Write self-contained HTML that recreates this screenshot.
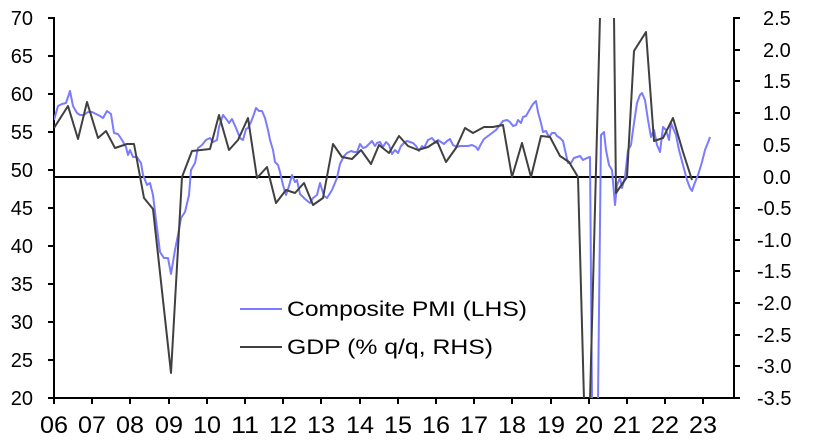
<!DOCTYPE html>
<html><head><meta charset="utf-8"><style>
html,body{margin:0;padding:0;background:#fff;width:814px;height:443px;overflow:hidden;}
svg{display:block;font-family:"Liberation Sans",Arial,sans-serif;}
</style></head><body>
<svg width="814" height="443" viewBox="0 0 814 443" xmlns="http://www.w3.org/2000/svg">
<defs><clipPath id="c"><rect x="54" y="18" width="680" height="380"/></clipPath></defs>
<g stroke="#000" stroke-width="2" fill="none">
<line x1="54" y1="17" x2="54" y2="398"/>
<line x1="734" y1="17" x2="734" y2="398"/>
<line x1="53" y1="398" x2="735" y2="398"/>
<line x1="54" y1="177" x2="734" y2="177"/>
<path d="M48 18H54M48 56H54M48 94H54M48 132H54M48 170H54M48 208H54M48 246H54M48 284H54M48 322H54M48 360H54M48 398H54"/>
<path d="M734 18H740M734 50H740M734 81H740M734 113H740M734 145H740M734 177H740M734 208H740M734 240H740M734 271H740M734 303H740M734 335H740M734 366H740M734 398H740"/>
<path d="M54 398V404M92 398V404M130 398V404M169 398V404M207 398V404M245 398V404M283 398V404M321 398V404M360 398V404M398 398V404M436 398V404M474 398V404M512 398V404M551 398V404M589 398V404M627 398V404M665 398V404M703 398V404"/>
</g>
<g font-size="20" fill="#000" text-anchor="end">
<text x="33" y="25">70</text><text x="33" y="63">65</text><text x="33" y="101">60</text><text x="33" y="139">55</text><text x="33" y="177">50</text><text x="33" y="215">45</text><text x="33" y="253">40</text><text x="33" y="291">35</text><text x="33" y="329">30</text><text x="33" y="367">25</text><text x="33" y="405">20</text>
</g>
<g font-size="20" fill="#000" text-anchor="start">
<text x="763" y="25">2.5</text><text x="763" y="57">2.0</text><text x="763" y="88">1.5</text><text x="763" y="120">1.0</text><text x="763" y="152">0.5</text><text x="763" y="184">0.0</text><text x="757" y="215">-0.5</text><text x="757" y="247">-1.0</text><text x="757" y="278">-1.5</text><text x="757" y="310">-2.0</text><text x="757" y="342">-2.5</text><text x="757" y="373">-3.0</text><text x="757" y="405">-3.5</text>
</g>
<g font-size="24" fill="#000">
<text x="40" y="433" textLength="28" lengthAdjust="spacingAndGlyphs">06</text><text x="78" y="433" textLength="28" lengthAdjust="spacingAndGlyphs">07</text><text x="116" y="433" textLength="28" lengthAdjust="spacingAndGlyphs">08</text><text x="155" y="433" textLength="28" lengthAdjust="spacingAndGlyphs">09</text><text x="193" y="433" textLength="28" lengthAdjust="spacingAndGlyphs">10</text><text x="231" y="433" textLength="28" lengthAdjust="spacingAndGlyphs">11</text><text x="269" y="433" textLength="28" lengthAdjust="spacingAndGlyphs">12</text><text x="307" y="433" textLength="28" lengthAdjust="spacingAndGlyphs">13</text><text x="346" y="433" textLength="28" lengthAdjust="spacingAndGlyphs">14</text><text x="384" y="433" textLength="28" lengthAdjust="spacingAndGlyphs">15</text><text x="422" y="433" textLength="28" lengthAdjust="spacingAndGlyphs">16</text><text x="460" y="433" textLength="28" lengthAdjust="spacingAndGlyphs">17</text><text x="498" y="433" textLength="28" lengthAdjust="spacingAndGlyphs">18</text><text x="537" y="433" textLength="28" lengthAdjust="spacingAndGlyphs">19</text><text x="575" y="433" textLength="28" lengthAdjust="spacingAndGlyphs">20</text><text x="613" y="433" textLength="28" lengthAdjust="spacingAndGlyphs">21</text><text x="651" y="433" textLength="28" lengthAdjust="spacingAndGlyphs">22</text><text x="689" y="433" textLength="28" lengthAdjust="spacingAndGlyphs">23</text>
</g>
<g clip-path="url(#c)" fill="none" stroke-width="2" stroke-linejoin="round">
<polyline stroke="#7b7bff" points="54,120 58,106 62,104 66,103 70,91 73,106 77,113 80,115 84,115 88,112 92,112 96,114 100,116 103,118 107,111 111,114 114,133 118,134 122,140 126,147 128,155 130,150 133,157 137,157 141,163 143,175 147,185 150,183 153,195 156,220 160,252 164,258 168,258 171,274 175,250 178,235 181,218 185,212 189,195 191,170 195,163 198,148 202,145 206,140 210,138 213,142 217,140 219,127 223,115 227,120 229,123 232,119 236,128 240,138 243,140 246,129 248,128 251,122 254,114 256,108 259,111 262,111 265,118 268,130 270,140 273,150 275,162 278,165 280,172 283,185 286,195 289,186 292,175 295,182 297,180 300,194 305,199 310,203 313,198 317,195 320,183 324,196 327,198 332,190 337,178 340,164 344,156 347,153 351,151 354,152 357,152 360,144 363,148 366,147 369,144 372,141 375,146 377,143 380,142 383,147 386,142 389,145 392,154 395,150 398,153 401,146 404,143 407,141 410,142 413,143 416,146 419,151 422,146 424,148 428,140 432,138 436,143 438,140 441,142 444,144 447,141 450,139 453,145 457,147 460,146 464,146 468,146 472,145 476,147 478,150 481,144 484,139 488,136 492,133 496,130 500,125 503,121 507,120 510,122 513,126 516,125 518,120 521,123 523,117 526,116 530,109 533,104 536,101 538,112 541,123 543,132 546,131 549,137 552,133 555,133 557,136 560,138 563,141 565,150 568,163 571,163 574,158 577,157 580,156 583,160 587,158 590,157 592,400 598,400 601,135 604,132 606,150 609,165 612,170 615,205 617,185 620,178 622,188 625,177 628,150 631,145 633,130 637,103 640,95 642,93 645,100 648,120 651,137 654,130 657,145 660,152 663,127 666,130 669,140 671,123 673,128 676,135 679,150 683,165 687,180 690,188 692,191 694,185 698,175 702,162 705,150 709,140 710,137"/>
<polyline stroke="#404040" points="54,128 68,106 78,139 87,102 98,138 106,131 115,148 127,144 134,144 144,198 153,209 171,373 182,177 192,151 210,149 219,115 229,150 238,140 248,118 257,178 267,167 276,203 286,190 295,193 304,183 313,205 323,198 333,144 342,157 352,159 361,150 371,164 379,145 389,153 399,136 408,146 418,150 428,147 437,141 446,162 456,148 465,128 473,133 484,127 493,127 503,125 512,177 522,143 531,177 541,136 550,137 560,156 569,162 578,177 584,400 590,400 600,16 614,16 616,193 627,177 634,51 646,32 654,141 663,138 673,118 683,152 692,180"/>
</g>
<line x1="240" y1="309" x2="282" y2="309" stroke="#7b7bff" stroke-width="2"/>
<line x1="240" y1="347" x2="282" y2="347" stroke="#404040" stroke-width="2"/>
<g font-size="21" fill="#000">
<text x="287" y="316" textLength="240" lengthAdjust="spacingAndGlyphs">Composite PMI (LHS)</text>
<text x="287" y="354" textLength="206" lengthAdjust="spacingAndGlyphs">GDP (% q/q, RHS)</text>
</g>
</svg>
</body></html>
